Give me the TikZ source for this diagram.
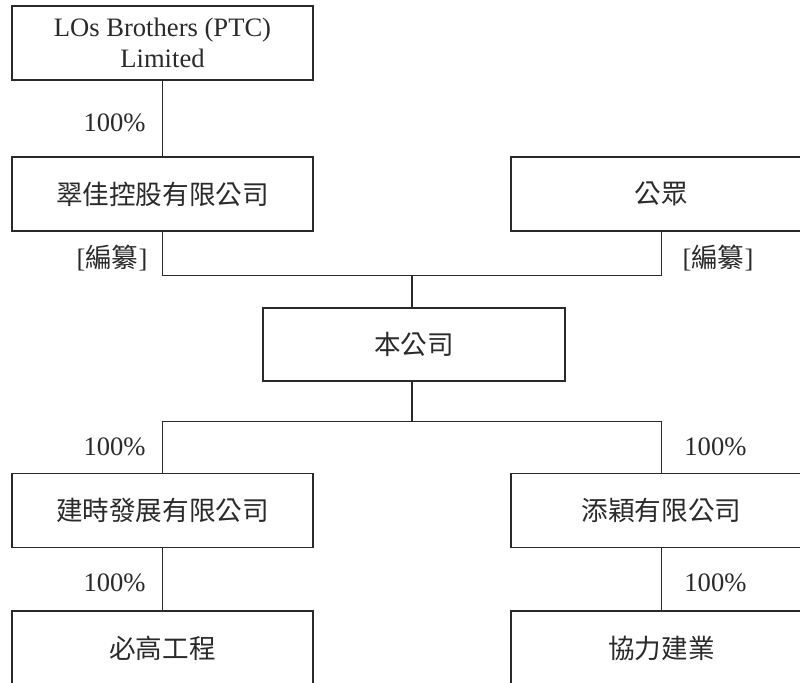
\documentclass[tikz,border=0pt]{standalone}
\usepackage{fontspec}
\setmainfont{Liberation Serif}
\newfontfamily\cjk{Noto Sans CJK TC}
\definecolor{ink}{HTML}{2A2A2A}
\begin{document}
\begin{tikzpicture}[x=0.5pt,y=-0.5pt,
  box/.style={draw=ink,line width=0.75pt,minimum width=150.5pt,minimum height=37pt,inner sep=0pt,align=center,text=ink,font=\fontsize{13.3}{15.5}\selectfont},
  lbl/.style={inner sep=0pt,text=ink,font=\fontsize{13.3}{15.5}\selectfont},
  wire/.style={draw=ink,line width=0.75pt}]
\clip (0,0) rectangle (800,682);
\fill[white] (0,0) rectangle (800,682);
% boxes
\node[box] (A) at (162.5,43) {LOs Brothers (PTC)\\Limited};
\node[box] (B) at (162.5,194) {\cjk 翠佳控股有限公司};
\node[box] (C) at (661.5,194) {\cjk 公眾};
\node[box,minimum width=151pt,minimum height=36.5pt] (D) at (414,344.5) {\cjk 本公司};
\node[box] (E) at (162.5,510.5) {\cjk 建時發展有限公司};
\node[box] (F) at (661.5,510.5) {\cjk 添穎有限公司};
\node[box] (G) at (162.5,648) {\cjk 必高工程};
\node[box] (H) at (661.5,648) {\cjk 協力建業};
% junctions
\coordinate (j1) at (412,275.7);
\coordinate (j2) at (412,421.5);
% connectors
\draw[wire] (A.south) -- (B.north);
\draw[wire] (B.south) -- (B.south |- j1) -- (C.south |- j1) -- (C.south);
\draw[wire] (j1) -- (j1 |- D.north);
\draw[wire] (j1 |- D.south) -- (j2);
\draw[wire] (E.north) -- (E.north |- j2) -- (F.north |- j2) -- (F.north);
\draw[wire] (E.south) -- (G.north);
\draw[wire] (F.south) -- (H.north);
% labels
\node[lbl,anchor=east] (p1) at (146,123) {100\%};
\node[lbl] (b1) at (112,258) {[{\cjk 編纂}]};
\node[lbl] (b2) at (718,258) {[{\cjk 編纂}]};
\node[lbl,anchor=east] (p2) at (146,447) {100\%};
\node[lbl,anchor=west] (p3) at (684,447) {100\%};
\node[lbl,anchor=east] (p4) at (146,583) {100\%};
\node[lbl,anchor=west] (p5) at (684,583) {100\%};
\end{tikzpicture}
\end{document}
